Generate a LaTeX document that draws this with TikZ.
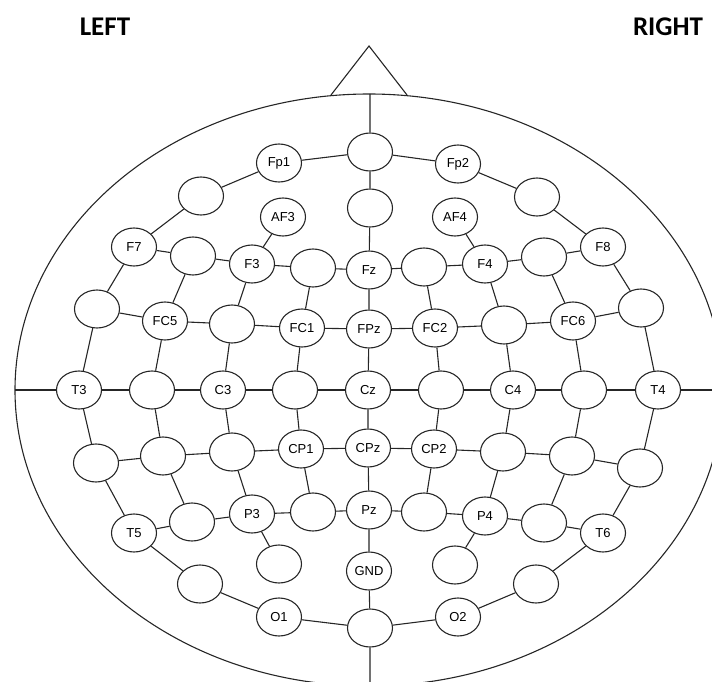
\documentclass[tikz,border=0pt]{standalone}
\usepackage{fontspec}
\setmainfont{Liberation Sans}
\newfontfamily\calfont{Carlito}
\usetikzlibrary{shapes.geometric}
\tikzset{
  lw/.style={line width=1.1pt, draw=black!85},
  elec/.style={ellipse, lw, minimum width=45pt, minimum height=38pt, inner sep=0pt,
    font=\fontsize{13}{13}\selectfont, text=black},
  side/.style={font=\calfont\bfseries\fontsize{27}{27}\selectfont},
}
\begin{document}
\begin{tikzpicture}[x=1pt,y=-1pt]
\useasboundingbox (0,0) rectangle (712,682);
\clip (0,0) rectangle (712,682);
\node[side] (lft) at (105,27) {LEFT};
\node[side] (rgt) at (668,27) {RIGHT};
% head
\draw[lw] (369,390) ellipse [x radius=354pt, y radius=296pt];
\coordinate (nose1) at (331,95);
\coordinate (nose2) at (369,46);
\coordinate (nose3) at (407,95);
\draw[lw, line join=miter] (nose1) -- (nose2) -- (nose3);
\coordinate (top) at (370,94);
\coordinate (bot) at (370,690);
\coordinate (lend) at (15,390);
\coordinate (rend) at (725,390);
% midline
\node[elec] (Fpz) at (370,152) {};
\node[elec] (AFz) at (370,208) {};
\node[elec] (Fz) at (369,270) {Fz};
\node[elec] (FPz) at (369,329) {FPz};
\node[elec] (Cz) at (368,390) {Cz};
\node[elec] (CPz) at (368,448) {CPz};
\node[elec] (Pz) at (369,510) {Pz};
\node[elec] (GND) at (369,571) {GND};
\node[elec] (Oz) at (370,628) {};
% left
\node[elec] (Fp1) at (279,163) {Fp1};
\node[elec] (AF7) at (201,196) {};
\node[elec] (AF3) at (283,217) {AF3};
\node[elec] (F7) at (134,247) {F7};
\node[elec] (F5) at (193,256) {};
\node[elec] (F3) at (252,264) {F3};
\node[elec] (F1) at (313,268) {};
\node[elec] (FT7) at (97,309) {};
\node[elec] (FC5) at (165,321) {FC5};
\node[elec] (FC3) at (232,324) {};
\node[elec] (FC1) at (302,328) {FC1};
\node[elec] (T3) at (79,390) {T3};
\node[elec] (C5) at (152,390) {};
\node[elec] (C3) at (223,390) {C3};
\node[elec] (C1) at (295,390) {};
\node[elec] (TP7) at (96,463) {};
\node[elec] (CP5) at (163,456) {};
\node[elec] (CP3) at (232,452) {};
\node[elec] (CP1) at (301,449) {CP1};
\node[elec] (T5) at (134,533) {T5};
\node[elec] (P5) at (192,522) {};
\node[elec] (P3) at (252,514) {P3};
\node[elec] (P1) at (313,512) {};
\node[elec] (PO3) at (279,564) {};
\node[elec] (PO7) at (200,584) {};
\node[elec] (O1) at (279,617) {O1};
% right
\node[elec] (Fp2) at (458,164) {Fp2};
\node[elec] (AF8) at (537,197) {};
\node[elec] (AF4) at (455,217) {AF4};
\node[elec] (F2) at (424,267) {};
\node[elec] (F4) at (485,264) {F4};
\node[elec] (F6) at (544,257) {};
\node[elec] (F8) at (603,247) {F8};
\node[elec] (FC2) at (435,328) {FC2};
\node[elec] (FC4) at (504,325) {};
\node[elec] (FC6) at (573,321) {FC6};
\node[elec] (FT8) at (641,308) {};
\node[elec] (C2) at (441,390) {};
\node[elec] (C4) at (513,390) {C4};
\node[elec] (C6) at (584,390) {};
\node[elec] (T4) at (658,390) {T4};
\node[elec] (CP2) at (434,449) {CP2};
\node[elec] (CP4) at (503,452) {};
\node[elec] (CP6) at (572,456) {};
\node[elec] (TP8) at (640,468) {};
\node[elec] (P2) at (424,512) {};
\node[elec] (P4) at (485,516) {P4};
\node[elec] (P6) at (544,523) {};
\node[elec] (T6) at (603,533) {T6};
\node[elec] (PO4) at (455,565) {};
\node[elec] (PO8) at (536,584) {};
\node[elec] (O2) at (458,617) {O2};
% midline connectors
\draw[lw] (top) -- (Fpz) -- (AFz) -- (Fz) -- (FPz) -- (Cz) -- (CPz) -- (Pz) -- (GND) -- (Oz) -- (bot);
% outer ring
\draw[lw] (Fpz) -- (Fp1) -- (AF7) -- (F7) -- (FT7) -- (T3) -- (TP7) -- (T5) -- (PO7) -- (O1) -- (Oz);
\draw[lw] (Fpz) -- (Fp2) -- (AF8) -- (F8) -- (FT8) -- (T4) -- (TP8) -- (T6) -- (PO8) -- (O2) -- (Oz);
% rows
\draw[lw] (F7) -- (F5) -- (F3) -- (F1) -- (Fz) -- (F2) -- (F4) -- (F6) -- (F8);
\draw[lw] (FT7) -- (FC5) -- (FC3) -- (FC1) -- (FPz) -- (FC2) -- (FC4) -- (FC6) -- (FT8);
\draw[lw] (lend) -- (T3) -- (C5) -- (C3) -- (C1) -- (Cz) -- (C2) -- (C4) -- (C6) -- (T4) -- (rend);
\draw[lw] (TP7) -- (CP5) -- (CP3) -- (CP1) -- (CPz) -- (CP2) -- (CP4) -- (CP6) -- (TP8);
\draw[lw] (T5) -- (P5) -- (P3) -- (P1) -- (Pz) -- (P2) -- (P4) -- (P6) -- (T6);
% columns
\draw[lw] (F5) -- (FC5) -- (C5) -- (CP5) -- (P5);
\draw[lw] (F3) -- (FC3) -- (C3) -- (CP3) -- (P3);
\draw[lw] (F1) -- (FC1) -- (C1) -- (CP1) -- (P1);
\draw[lw] (F2) -- (FC2) -- (C2) -- (CP2) -- (P2);
\draw[lw] (F4) -- (FC4) -- (C4) -- (CP4) -- (P4);
\draw[lw] (F6) -- (FC6) -- (C6) -- (CP6) -- (P6);
% extra branches
\draw[lw] (AF3) -- (F3);
\draw[lw] (AF4) -- (F4);
\draw[lw] (P3) -- (PO3);
\draw[lw] (P4) -- (PO4);
\end{tikzpicture}
\end{document}
